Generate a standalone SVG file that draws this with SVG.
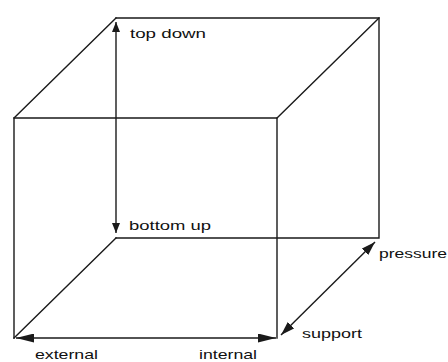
<svg xmlns="http://www.w3.org/2000/svg" width="448" height="362" viewBox="0 0 448 362">
<style>
.e{stroke:#1a1a1a;stroke-width:1.4;fill:none;stroke-linecap:square}
.a{stroke:#1a1a1a;stroke-width:1.4;fill:none}
.t{font-family:"Liberation Sans",Arial,sans-serif;font-size:13px;fill:#111}
</style>
<defs>
<marker id="mv" markerUnits="userSpaceOnUse" viewBox="0 0 10 8" refX="10" refY="4" markerWidth="10" markerHeight="8" orient="auto-start-reverse"><path d="M0,0 L10,4 L0,8 z" fill="#1a1a1a"/></marker>
<marker id="mh" markerUnits="userSpaceOnUse" viewBox="0 0 18 9" refX="18" refY="4.5" markerWidth="18" markerHeight="9" orient="auto-start-reverse"><path d="M0,0 L18,4.5 L0,9 z" fill="#1a1a1a"/></marker>
<marker id="md" markerUnits="userSpaceOnUse" viewBox="0 0 14 9" refX="14" refY="4.5" markerWidth="14" markerHeight="9" orient="auto-start-reverse"><path d="M0,0 L14,4.5 L0,9 z" fill="#1a1a1a"/></marker>
</defs>
<rect width="448" height="362" fill="#fff"/>
<g id="cube">
<path class="e" d="M116,18 H379 V238 H116"/>
<path class="e" d="M14,118 H277 V338 M14,118 V338"/>
<path class="e" d="M14,118 L116,18 M277,118 L379,18 M14,338 L116,238"/>
</g>
<g id="connectors">
<line class="a" x1="116" y1="22" x2="116" y2="233" marker-start="url(#mv)" marker-end="url(#mv)"/>
<line class="a" x1="16" y1="338" x2="276" y2="338" marker-start="url(#mh)" marker-end="url(#mh)"/>
<line class="a" x1="281" y1="335" x2="375" y2="242" marker-start="url(#md)" marker-end="url(#md)"/>
</g>
<g id="top-down"><text class="t" x="130" y="38" textLength="76" lengthAdjust="spacingAndGlyphs">top down</text></g>
<g id="bottom-up"><text class="t" x="129" y="230" textLength="82" lengthAdjust="spacingAndGlyphs">bottom up</text></g>
<g id="pressure"><text class="t" x="379" y="258" textLength="68" lengthAdjust="spacingAndGlyphs">pressure</text></g>
<g id="support"><text class="t" x="302" y="338" textLength="60" lengthAdjust="spacingAndGlyphs">support</text></g>
<g id="external"><text class="t" x="35" y="359" textLength="63" lengthAdjust="spacingAndGlyphs">external</text></g>
<g id="internal"><text class="t" x="199" y="359" textLength="58" lengthAdjust="spacingAndGlyphs">internal</text></g>
</svg>
